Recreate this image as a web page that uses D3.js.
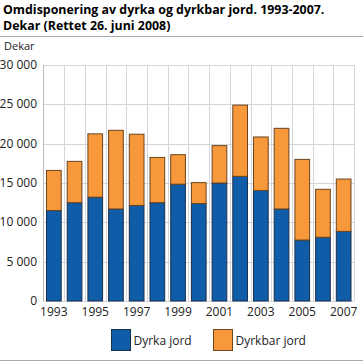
<!DOCTYPE html>
<html>
<head>
<meta charset="utf-8">
<script src="https://cdn.jsdelivr.net/npm/d3@7"></script>
<style>
body { margin: 0; background: #fff; }
svg { font-family: "Open Sans", "Noto Sans", sans-serif; }
</style>
</head>
<body>
<svg width="363" height="362"></svg>
<script>
var years = ["1993","1994","1995","1996","1997","1998","1999","2000","2001","2002","2003","2004","2005","2006","2007"];
var dyrka = [11500, 12500, 13200, 11700, 12150, 12500, 14850, 12400, 15000, 15850, 14050, 11700, 7750, 8100, 8850];
var dyrkbar = [5100, 5250, 8050, 10000, 9050, 5750, 3750, 2650, 4750, 9050, 6800, 10250, 10250, 6100, 6650];
var seriesNames = ["Dyrka jord", "Dyrkbar jord"];
var colors = ["#0f5ca8", "#f7993a"];
var yTicks = [0, 5000, 10000, 15000, 20000, 25000, 30000];

var svg = d3.select("svg"),
  width = +svg.attr("width"),
  height = +svg.attr("height");

var margin = {left: 43.5, right: 9, top: 65, bottom: 61};

var x = d3.scaleBand()
  .domain(years)
  .range([margin.left, width - margin.right])
  .paddingInner(0.29)
  .paddingOuter(0.145);

var y = d3.scaleLinear()
  .domain([0, 30000])
  .range([height - margin.bottom, margin.top]);

// title
svg.append("text")
  .attr("x", 3).attr("y", 14)
  .attr("font-weight", "bold").attr("font-size", "12.4px").attr("fill", "#000")
  .text("Omdisponering av dyrka og dyrkbar jord. 1993-2007.");
svg.append("text")
  .attr("x", 3).attr("y", 30)
  .attr("font-weight", "bold").attr("font-size", "12.4px").attr("fill", "#000")
  .text("Dekar (Rettet 26. juni 2008)");

svg.append("line")
  .attr("x1", 0).attr("x2", width).attr("y1", 36.5).attr("y2", 36.5)
  .attr("stroke", "#aaa").attr("stroke-width", 1);
svg.append("line")
  .attr("x1", 0).attr("x2", width).attr("y1", 360.5).attr("y2", 360.5)
  .attr("stroke", "#aaa").attr("stroke-width", 1);

svg.append("text")
  .attr("x", 4).attr("y", 50)
  .attr("font-size", "11px").attr("fill", "#222")
  .text("Dekar");

// grid
var step = x.step();
var grid = svg.append("g").attr("stroke", "#d5d5dc").attr("stroke-width", 1);
grid.selectAll(".h").data(yTicks).enter().append("line")
  .attr("x1", margin.left).attr("x2", width - margin.right)
  .attr("y1", function(d) { return Math.round(y(d)) + 0.5; })
  .attr("y2", function(d) { return Math.round(y(d)) + 0.5; });
grid.selectAll(".v").data(years.slice(1).concat(["end"])).enter().append("line")
  .attr("x1", function(d, i) { return Math.round(margin.left + step * (i + 1)) + 0.5; })
  .attr("x2", function(d, i) { return Math.round(margin.left + step * (i + 1)) + 0.5; })
  .attr("y1", y(30000)).attr("y2", y(0));
svg.append("line")
  .attr("x1", margin.left).attr("x2", margin.left)
  .attr("y1", y(30000)).attr("y2", y(0))
  .attr("stroke", "#bbb");

// stacked bars
var rows = years.map(function(yr, i) { return {year: yr, a: dyrka[i], b: dyrkbar[i]}; });
var stack = d3.stack().keys(["a", "b"])(rows);
var strokes = ["#1c2f4a", "#6b4420"];

svg.append("g").selectAll("g").data(stack).enter().append("g")
  .attr("fill", function(d, i) { return colors[i]; })
  .attr("stroke", function(d, i) { return strokes[i]; })
  .attr("stroke-width", 1)
  .selectAll("rect").data(function(d) { return d; }).enter().append("rect")
  .attr("x", function(d) { return x(d.data.year); })
  .attr("width", x.bandwidth())
  .attr("y", function(d) { return y(d[1]); })
  .attr("height", function(d) { return y(d[0]) - y(d[1]); });

// y axis labels
var fmt = function(v) { return v === 0 ? "0" : d3.format(",")(v).replace(",", " "); };
svg.append("g").selectAll("text").data(yTicks).enter().append("text")
  .attr("x", 37).attr("y", function(d) { return y(d) + 4; })
  .attr("text-anchor", "end").attr("font-size", "12px").attr("fill", "#222")
  .text(fmt);

// x axis labels
svg.append("g").selectAll("text").data(years.filter(function(d, i) { return i % 2 === 0; }))
  .enter().append("text")
  .attr("x", function(d) { return x(d) + x.bandwidth() / 2; })
  .attr("y", 316)
  .attr("text-anchor", "middle").attr("font-size", "12px").attr("fill", "#222")
  .text(function(d) { return d; });

// legend
var legX = [111.5, 213.5];
var leg = svg.append("g").selectAll("g").data(seriesNames).enter().append("g")
  .attr("transform", function(d, i) { return "translate(" + legX[i] + ",329.5)"; });
leg.append("rect")
  .attr("width", 19).attr("height", 21)
  .attr("fill", function(d, i) { return colors[i]; })
  .attr("stroke", function(d, i) { return strokes[i]; });
leg.append("text")
  .attr("x", 22).attr("y", 15.5)
  .attr("font-size", "12px").attr("fill", "#222")
  .text(function(d) { return d; });
</script>
</body>
</html>
